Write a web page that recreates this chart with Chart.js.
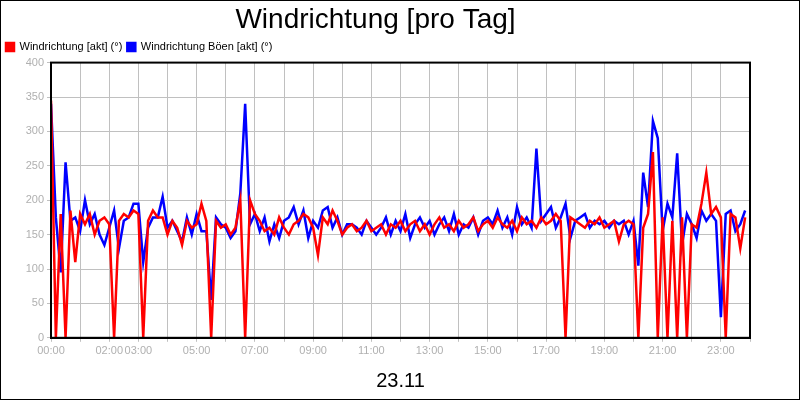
<!DOCTYPE html>
<html>
<head>
<meta charset="utf-8">
<script src="https://cdn.jsdelivr.net/npm/chart.js@4/dist/chart.umd.min.js"></script>
<style>
  body { margin: 0; background: #fff; }
  #wrap { width: 798px; height: 398px; border: 1px solid #000; }
</style>
</head>
<body>
<div id="wrap"><canvas id="c" width="798" height="398"></canvas></div>
<script>
// one value every 10 minutes, 00:00 .. 23:50
const windAkt = [345,0,180,0,185,110,180,165,180,150,170,175,165,0,170,180,175,185,180,0,
  170,185,175,175,150,170,160,135,170,160,165,195,170,0,170,160,165,150,160,200,
  0,200,180,170,155,160,150,175,160,150,165,170,180,175,160,120,175,165,185,170,
  150,160,165,155,160,170,155,160,165,150,165,160,170,155,165,170,155,165,150,165,
  175,160,165,155,170,160,165,175,155,165,170,160,175,165,160,170,155,175,165,170,
  160,175,165,170,180,170,0,175,170,165,160,170,165,175,160,
  165,170,140,165,170,165,0,160,180,270,0,175,0,170,0,175,0,165,160,195,240,180,190,175,0,180,175,130,175];
const boeenAkt = [340,175,95,255,170,175,155,200,165,180,150,135,160,185,130,170,175,195,195,110,
  160,175,175,205,160,170,155,140,175,150,180,155,155,55,175,165,160,145,155,210,
  340,165,180,155,175,140,165,145,170,175,190,165,185,145,170,160,185,190,160,175,
  150,165,165,160,150,170,160,150,160,175,150,170,155,180,145,165,175,160,170,150,
  165,175,155,180,150,165,160,175,150,170,175,165,185,160,175,150,190,165,175,160,
  275,170,180,190,160,175,195,145,170,175,180,160,170,165,170,
  160,170,165,170,150,170,105,240,190,315,290,155,195,175,268,135,180,165,145,185,170,180,170,30,180,185,155,165,185];
const tickHours = [0, 2, 3, 5, 7, 9, 11, 13, 15, 17, 19, 21, 23];
const dayLabel = '23.11';

const pts = arr => arr.map((v, i) => ({ x: i * 10, y: v }));

// black frame around the plot area
const frame = {
  id: 'frame',
  afterDraw(chart) {
    const { ctx, chartArea: a } = chart;
    ctx.save();
    ctx.strokeStyle = '#000';
    ctx.lineWidth = 2;
    ctx.strokeRect(a.left, a.top, a.right - a.left, a.bottom - a.top);
    ctx.restore();
  }
};

new Chart(document.getElementById('c'), {
  type: 'line',
  data: {
    datasets: [
      { label: 'Windrichtung [akt] (°)', data: pts(windAkt), borderColor: '#ff0000', backgroundColor: '#ff0000', borderWidth: 2.5, pointRadius: 0, tension: 0 },
      { label: 'Windrichtung Böen [akt] (°)', data: pts(boeenAkt), borderColor: '#0000ff', backgroundColor: '#0000ff', borderWidth: 2.5, pointRadius: 0, tension: 0, order: 1 }
    ]
  },
  options: {
    responsive: false,
    animation: false,
    layout: { padding: { left: 0, right: 49, top: 0, bottom: 6 } },
    plugins: {
      title: { display: true, text: 'Windrichtung [pro Tag]', color: '#000', font: { family: 'Liberation Sans', size: 28, weight: 'normal' }, padding: { top: 2, bottom: 0 } },
      legend: { align: 'start', labels: { boxWidth: 8, boxHeight: 8, color: '#000', font: { family: 'Liberation Sans', size: 11 }, padding: 5 } }
    },
    scales: {
      x: {
        type: 'linear', min: 0, max: 1440,
        border: { color: '#000', width: 2 },
        grid: { color: '#c0c0c0', lineWidth: 1, tickLength: 4 },
        ticks: {
          stepSize: 60, autoSkip: false, maxRotation: 0, color: '#b0b0b0',
          font: { family: 'Liberation Sans', size: 11 },
          callback: v => tickHours.includes(v / 60) ? String(v / 60).padStart(2, '0') + ':00' : ''
        },
        title: { display: true, text: dayLabel, color: '#000', font: { family: 'Liberation Sans', size: 20 }, padding: { top: 8, bottom: 0 } }
      },
      y: {
        min: 0, max: 400,
        border: { color: '#000', width: 2 },
        grid: { color: '#c0c0c0', lineWidth: 1, tickLength: 4 },
        ticks: { stepSize: 50, color: '#b0b0b0', font: { family: 'Liberation Sans', size: 11 } },
        afterFit: s => { s.width = 50; }
      }
    }
  },
  plugins: [frame]
});
</script>
</body>
</html>
